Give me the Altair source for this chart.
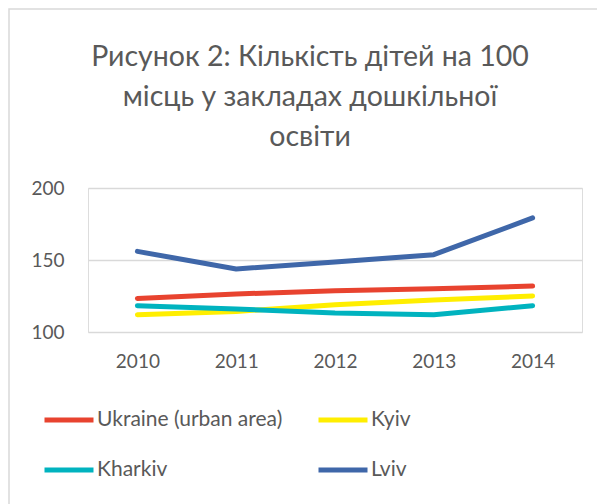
import altair as alt
import pandas as pd

years = ["2010", "2011", "2012", "2013", "2014"]
series = ["Ukraine (urban area)", "Kyiv", "Kharkiv", "Lviv"]
ukraine = [123.3, 126.4, 128.7, 130.0, 131.9]
kyiv = [112.0, 114.3, 119.0, 122.2, 125.0]
kharkiv = [118.3, 116.0, 113.2, 112.0, 118.3]
lviv = [156.0, 143.8, 148.6, 153.7, 179.2]
colors = ["#E8432F", "#FFEE00", "#00B3BF", "#3F67A9"]

rows = []
for name, vals in zip(series, [ukraine, kyiv, kharkiv, lviv]):
    for y, v in zip(years, vals):
        rows.append({"year": y, "series": name, "value": v})
df = pd.DataFrame(rows)

FONT = "Lato"
GRAY = "#595959"

lines = alt.Chart(df).mark_line(strokeWidth=5, strokeCap="round", strokeJoin="round").encode(
    x=alt.X("year:N", sort=years, title=None,
            scale=alt.Scale(type="point", padding=0.5),
            axis=alt.Axis(labelAngle=0, labelFontSize=19, labelColor=GRAY, labelFont=FONT,
                          domain=False, ticks=False, grid=False, labelPadding=20)),
    y=alt.Y("value:Q", title=None,
            scale=alt.Scale(domain=[100, 200], nice=False, zero=False),
            axis=alt.Axis(values=[100, 150, 200], labelFontSize=19, labelColor=GRAY,
                          labelFont=FONT, domain=False, ticks=False, gridColor="#D9D9D9",
                          gridWidth=1.3, labelPadding=24)),
    color=alt.Color("series:N", sort=series, title=None,
                    scale=alt.Scale(domain=series, range=colors),
                    legend=alt.Legend(orient="none", legendX=-46, legendY=205, columns=2,
                                      direction="horizontal",
                                      symbolType="stroke", symbolSize=2401, symbolStrokeWidth=5,
                                      labelFontSize=21, labelColor=GRAY, labelFont=FONT,
                                      labelLimit=0,
                                      rowPadding=13, columnPadding=25, labelOffset=1,
                                      symbolOffset=0)),
    order=alt.value(0),
)

frame = alt.Chart(pd.DataFrame({"k": [0]})).mark_rect(
    fill=None, stroke="#D9D9D9", strokeWidth=1.5
).encode(x=alt.value(-79), x2=alt.value(620), y=alt.value(-179), y2=alt.value(420))

chart = alt.layer(frame, lines).properties(
    width=494, height=144,
    title=alt.Title(["Рисунок 2: Кількість дітей на 100", "місць у закладах дошкільної", "освіти"],
                    anchor="middle", fontSize=28.5, font=FONT, fontWeight="normal", color=GRAY,
                    lineHeight=40, offset=-143, dx=-25),
    autosize=alt.AutoSizeParams(type="none"),
    padding={"left": 80, "top": 180, "right": 15, "bottom": 172},
).configure_view(stroke=None).configure(background="white")

chart.save("out.html", embed_options={"renderer": "svg", "actions": False})
